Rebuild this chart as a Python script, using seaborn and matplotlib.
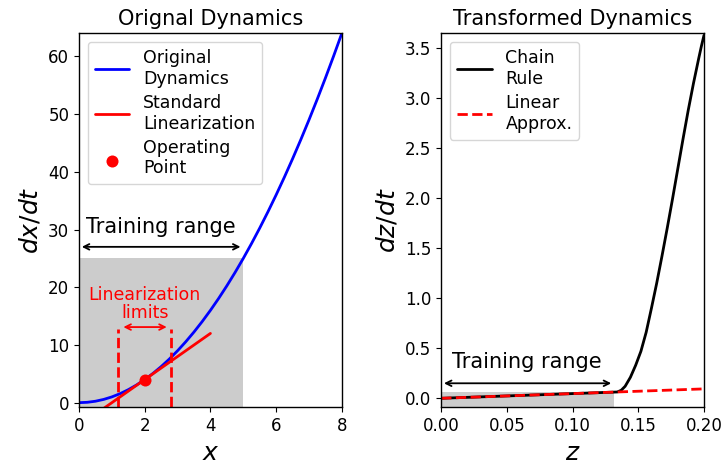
import numpy as np
import pandas as pd
import matplotlib
matplotlib.use("Agg")
import matplotlib.pyplot as plt
import seaborn as sns

# ---- data ----
x_orig = [0.0, 0.25, 0.5, 0.75, 1.0, 1.25, 1.5, 1.75, 2.0, 2.25, 2.5, 2.75, 3.0, 3.25, 3.5, 3.75,
          4.0, 4.25, 4.5, 4.75, 5.0, 5.25, 5.5, 5.75, 6.0, 6.25, 6.5, 6.75, 7.0, 7.25, 7.5, 7.75, 8.0]
dx_orig = [0.0, 0.0625, 0.25, 0.5625, 1.0, 1.5625, 2.25, 3.0625, 4.0, 5.0625, 6.25, 7.5625,
           9.0, 10.5625, 12.25, 14.0625, 16.0, 18.0625, 20.25, 22.5625, 25.0, 27.5625, 30.25,
           33.0625, 36.0, 39.0625, 42.25, 45.5625, 49.0, 52.5625, 56.25, 60.0625, 64.0]
x_lin = [0.75, 4.0]
dx_lin = [-1.0, 12.0]
op_x = [2.0]
op_y = [4.0]
lin_limits = [1.2, 2.8]
train_x_max = 5.0
train_y_max = 25.0

z_chain = [0.0, 0.134, 0.137, 0.140, 0.144, 0.148, 0.152, 0.156, 0.160, 0.164, 0.168,
           0.172, 0.176, 0.180, 0.184, 0.188, 0.192, 0.196, 0.198, 0.200]
dz_chain = [0.0, 0.063, 0.080, 0.12, 0.21, 0.33, 0.47, 0.66, 0.90, 1.15, 1.42,
            1.70, 1.99, 2.29, 2.59, 2.88, 3.15, 3.40, 3.52, 3.63]
z_lin = [0.0, 0.2]
dz_lin = [0.0, 0.094]
train_z_max = 0.1315
train_dz_max = 0.06

sns.set_style("ticks", {"axes.edgecolor": "black", "text.color": "black",
                        "xtick.color": "black", "ytick.color": "black",
                        "axes.labelcolor": "black"})
plt.rcParams["font.family"] = ["DejaVu Sans"]
plt.rcParams["xtick.labelsize"] = 12
plt.rcParams["ytick.labelsize"] = 12
plt.rcParams["xtick.major.size"] = 3.5
plt.rcParams["ytick.major.size"] = 3.5
plt.rcParams["axes.linewidth"] = 1.0

fig, (ax1, ax2) = plt.subplots(1, 2, figsize=(7.23, 4.66), dpi=100)
fig.subplots_adjust(left=0.1093, right=0.9737, top=0.9285, bottom=0.126, wspace=0.378)

LEG = dict(loc="upper left", fontsize=12.5, framealpha=0.8, labelspacing=0.35)

# ---- left panel ----
ylo1 = -0.8
ax1.fill_between([0, train_x_max], ylo1 - 5, train_y_max, color="#cccccc", lw=0, zorder=0)
sns.lineplot(x=x_orig, y=dx_orig, ax=ax1, color="blue", lw=2, label="Original\nDynamics", sort=False)
sns.lineplot(x=x_lin, y=dx_lin, ax=ax1, color="red", lw=2, label="Standard\nLinearization", sort=False)
sns.scatterplot(x=op_x, y=op_y, ax=ax1, color="red", s=75, linewidth=0, label="Operating\nPoint", zorder=5)
for xv in lin_limits:
    ax1.plot([xv, xv], [ylo1 - 5, 12.7], color="red", ls="--", lw=2)
ax1.annotate("", xy=(1.35, 13.1), xytext=(2.67, 13.1),
             arrowprops=dict(arrowstyle="<->", color="red", lw=1.3, shrinkA=0, shrinkB=0))
ax1.text(2.0, 14.0, "Linearization\nlimits", color="red", fontsize=12.5, ha="center", va="bottom",
         linespacing=1.0)
ax1.annotate("", xy=(0, 27.0), xytext=(train_x_max, 27.0),
             arrowprops=dict(arrowstyle="<->", color="black", lw=1.3))
ax1.text(0.2, 29.4, "Training range", fontsize=15, ha="left", va="baseline")
ax1.set_xlim(0, 8)
ax1.set_ylim(ylo1, 64)
ax1.set_xticks([0, 2, 4, 6, 8])
ax1.set_yticks([0, 10, 20, 30, 40, 50, 60])
ax1.set_xlabel("$x$", fontsize=18)
ax1.set_ylabel("$dx/dt$", fontsize=18)
ax1.set_title("Orignal Dynamics", fontsize=15)
ax1.legend(**LEG)

# ---- right panel ----
ylo2 = -0.09
ax2.fill_between([0, train_z_max], ylo2 - 1, train_dz_max, color="#cccccc", lw=0, zorder=0)
sns.lineplot(x=z_chain, y=dz_chain, ax=ax2, color="black", lw=2, label="Chain\nRule", sort=False)
sns.lineplot(x=z_lin, y=dz_lin, ax=ax2, color="red", lw=2, ls="--", label="Linear\nApprox.", sort=False)
ax2.annotate("", xy=(0, 0.15), xytext=(train_z_max, 0.15),
             arrowprops=dict(arrowstyle="<->", color="black", lw=1.3))
ax2.text(0.0079, 0.30, "Training range", fontsize=15, ha="left", va="baseline")
ax2.set_xlim(0, 0.2)
ax2.set_ylim(ylo2, 3.65)
ax2.set_xticks([0.0, 0.05, 0.10, 0.15, 0.20])
ax2.set_xticklabels(["0.00", "0.05", "0.10", "0.15", "0.20"])
ax2.set_yticks([0.0, 0.5, 1.0, 1.5, 2.0, 2.5, 3.0, 3.5])
ax2.set_xlabel("$z$", fontsize=18)
ax2.set_ylabel("$dz/dt$", fontsize=18)
ax2.set_title("Transformed Dynamics", fontsize=15)
ax2.legend(**LEG)

fig.savefig("out.png", dpi=100)
